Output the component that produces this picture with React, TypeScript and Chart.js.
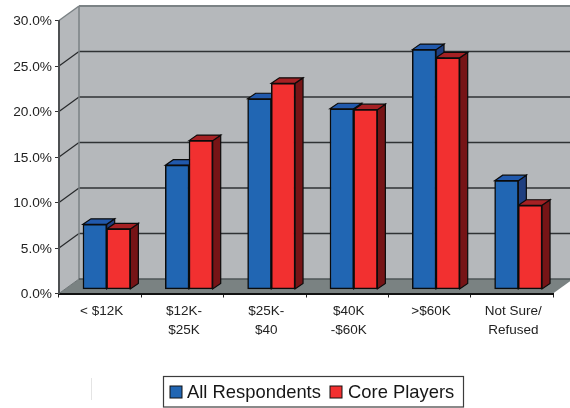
import React, { useEffect, useRef } from "react";
import { Chart, registerables } from "chart.js";

Chart.register(...registerables);

const incomeBands: (string | string[])[] = [
  "< $12K",
  ["$12K-", "$25K"],
  ["$25K-", "$40"],
  ["$40K", "-$60K"],
  ">$60K",
  ["Not Sure/", "Refused"],
];
const allRespondents = [7.1, 13.6, 20.9, 19.8, 26.3, 11.9];
const corePlayers = [6.6, 16.3, 22.6, 19.7, 25.4, 9.2];
const tickValues = [0, 5, 10, 15, 20, 25, 30];

const FONT = '"Liberation Sans", Arial, sans-serif';
const WALL_DX = 20;
const WALL_DY = 14.5;
const BAR_DX = 8;
const BAR_DY = 5.5;

const faceColours = [
  { top: "#2159ac", side: "#1f3f80" },
  { top: "#a52124", side: "#761416" },
];

function poly(ctx: CanvasRenderingContext2D, pts: number[][], fill: string | null, stroke?: string, lw = 1) {
  ctx.beginPath();
  pts.forEach(([x, y], i) => (i ? ctx.lineTo(x, y) : ctx.moveTo(x, y)));
  ctx.closePath();
  if (fill) {
    ctx.fillStyle = fill;
    ctx.fill();
  }
  if (stroke) {
    ctx.strokeStyle = stroke;
    ctx.lineWidth = lw;
    ctx.stroke();
  }
}

function line(ctx: CanvasRenderingContext2D, x1: number, y1: number, x2: number, y2: number, c: string, lw: number) {
  ctx.beginPath();
  ctx.moveTo(x1, y1);
  ctx.lineTo(x2, y2);
  ctx.strokeStyle = c;
  ctx.lineWidth = lw;
  ctx.stroke();
}

// Walls, floor and gridlines of the 3D box, then the depth faces of each bar.
// Painted before the axes so that axis lines and ticks stay on top.
const boxPlugin = {
  id: "box3d",
  beforeDraw(chart: any) {
    const { ctx, chartArea: a, scales } = chart;
    const y = scales.y;
    ctx.save();
    const wall = "#b5b8bb";
    const rim = "#7b8285";
    poly(ctx, [[a.left, a.top], [a.left + WALL_DX, a.top - WALL_DY], [a.left + WALL_DX, a.bottom - WALL_DY], [a.left, a.bottom]], wall);
    ctx.fillStyle = wall;
    ctx.fillRect(a.left + WALL_DX, a.top - WALL_DY, a.width, a.height);
    poly(ctx, [[a.left, a.bottom], [a.right, a.bottom], [a.right + WALL_DX, a.bottom - WALL_DY], [a.left + WALL_DX, a.bottom - WALL_DY]], "#7a8282");

    tickValues.forEach((v) => {
      const py = y.getPixelForValue(v);
      if (v === 0) return;
      if (v === 30) {
        line(ctx, a.left, py, a.left + WALL_DX, py - WALL_DY, rim, 1.5);
        line(ctx, a.left + WALL_DX, py - WALL_DY, a.right + WALL_DX, py - WALL_DY, rim, 2);
        return;
      }
      line(ctx, a.left, py, a.left + WALL_DX, py - WALL_DY, "#26282a", 1.2);
      line(ctx, a.left + WALL_DX, py - WALL_DY, a.right + WALL_DX, py - WALL_DY, "#2f3234", 1.5);
    });
    line(ctx, a.left + WALL_DX, a.top - WALL_DY, a.left + WALL_DX, a.bottom - WALL_DY, rim, 1.5);
    line(ctx, a.left + WALL_DX, a.bottom - WALL_DY, a.right + WALL_DX, a.bottom - WALL_DY, "#4e5456", 1.5);
    line(ctx, a.left, a.bottom, a.left + WALL_DX, a.bottom - WALL_DY, "#6d7476", 1);

    const count = chart.data.datasets[0].data.length;
    for (let i = 0; i < count; i++) {
      chart.data.datasets.forEach((_: any, d: number) => {
        const bar = chart.getDatasetMeta(d).data[i];
        const L = bar.x - bar.width / 2;
        const R = bar.x + bar.width / 2;
        const T = bar.y;
        const B = bar.base;
        const c = faceColours[d];
        poly(ctx, [[R, T], [R + BAR_DX, T - BAR_DY], [R + BAR_DX, B - BAR_DY], [R, B]], c.side, "#0b0b0b", 1.2);
        poly(ctx, [[L, T], [L + BAR_DX, T - BAR_DY], [R + BAR_DX, T - BAR_DY], [R, T]], c.top, "#0b0b0b", 1.2);
      });
    }
    ctx.restore();
  },
  afterDraw(chart: any) {
    const { ctx } = chart;
    ctx.save();
    // Boxed legend under the plot.
    ctx.fillStyle = "#ffffff";
    ctx.fillRect(163.5, 376.5, 300, 30.5);
    ctx.strokeStyle = "#3c3c3c";
    ctx.lineWidth = 1.2;
    ctx.strokeRect(163.5, 376.5, 300, 30.5);
    line(ctx, 91.5, 378, 91.5, 400, "#e4e4e4", 1);
    const slots = [
      { box: 170, text: 187 },
      { box: 330, text: 348 },
    ];
    ctx.font = `18.4px ${FONT}`;
    ctx.textBaseline = "middle";
    chart.data.datasets.forEach((ds: any, d: number) => {
      ctx.fillStyle = ds.backgroundColor;
      ctx.fillRect(slots[d].box, 386, 12, 12);
      ctx.strokeStyle = "#111111";
      ctx.lineWidth = 1;
      ctx.strokeRect(slots[d].box, 386, 12, 12);
      ctx.fillStyle = "#161616";
      ctx.fillText(ds.label, slots[d].text, 392.5);
    });
    ctx.restore();
  },
};

export default function App() {
  const canvasRef = useRef<HTMLCanvasElement>(null);

  useEffect(() => {
    const chart = new Chart(canvasRef.current as HTMLCanvasElement, {
      type: "bar",
      data: {
        labels: incomeBands as any,
        datasets: [
          {
            label: "All Respondents",
            data: allRespondents.map((v, i) => ({ x: i, y: v })),
            backgroundColor: "#2166b3",
            borderColor: "#0b0b0b",
            borderWidth: 1.5,
            borderSkipped: false,
            barThickness: 23.7,
            xAxisID: "xBars",
            yAxisID: "yBars",
          },
          {
            label: "Core Players",
            data: corePlayers.map((v, i) => ({ x: i, y: v })),
            backgroundColor: "#f23030",
            borderColor: "#0b0b0b",
            borderWidth: 1.5,
            borderSkipped: false,
            barThickness: 23.7,
            xAxisID: "xBars",
            yAxisID: "yBars",
          },
        ],
      } as any,
      options: {
        animation: false,
        responsive: false,
        layout: { padding: { left: 0, top: 20.5, right: 17, bottom: 0 } },
        plugins: { legend: { display: false }, tooltip: { enabled: false } },
        scales: {
          x: {
            type: "category",
            offset: true,
            afterFit: (s: any) => {
              s.height = 114.5;
            },
            grid: { offset: true, drawOnChartArea: false, drawTicks: true, tickLength: 4, color: "#222222", lineWidth: 1 },
            border: { display: true, color: "#111111", width: 2 },
            ticks: {
              autoSkip: false,
              maxRotation: 0,
              padding: 4,
              labelOffset: 1.5,
              color: "#222222",
              font: { family: FONT, size: 13.5, lineHeight: 1.4 },
            },
          },
          y: {
            type: "linear",
            min: 0,
            max: 30,
            afterFit: (s: any) => {
              s.width = 59;
            },
            afterBuildTicks: (s: any) => {
              s.ticks = tickValues.map((value) => ({ value }));
            },
            grid: { drawOnChartArea: false, drawTicks: true, tickLength: 4, color: "#333333", lineWidth: 1 },
            border: { display: true, color: "#4d5052", width: 2 },
            ticks: {
              padding: 3,
              labelOffset: 1,
              color: "#222222",
              font: { family: FONT, size: 13.7 },
              callback: (v: any) => Number(v).toFixed(1) + "%",
            },
          },
          // Hidden scales for the bars, which stand slightly inside the box.
          xBars: { type: "linear", axis: "x", display: false, offset: false, min: -0.579, max: 5.421 },
          yBars: { type: "linear", axis: "y", display: false, min: -0.5, max: 29.5 },
        },
      } as any,
      plugins: [boxPlugin],
    });
    return () => chart.destroy();
  }, []);

  return (
    <canvas
      ref={canvasRef}
      width={570}
      height={408}
      style={{ position: "fixed", left: 0, top: 0, display: "block" }}
    />
  );
}
